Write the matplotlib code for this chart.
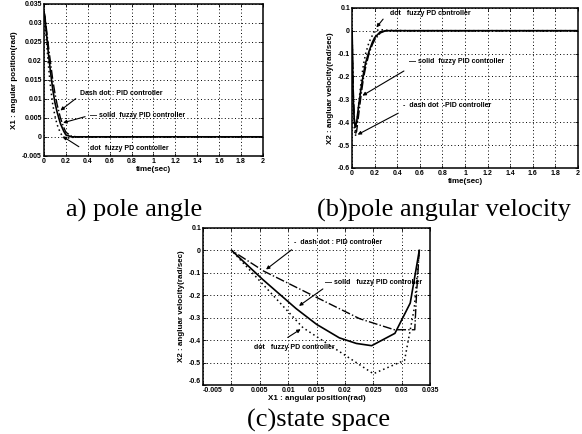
import matplotlib
matplotlib.use("Agg")
import matplotlib.pyplot as plt

# a) pole angle x1(t)
t_a = [0, 0.01, 0.02, 0.04, 0.06, 0.08, 0.1, 0.12, 0.15, 0.18, 0.2, 0.25, 0.3, 0.5, 1, 1.5, 2]
x1_fpid = [0.033, 0.031, 0.028, 0.022, 0.017, 0.0125, 0.009, 0.0065, 0.0035, 0.0015, 0.0005, 0, 0, 0, 0, 0, 0]
x1_pid = [0.033, 0.0315, 0.029, 0.024, 0.0195, 0.015, 0.0115, 0.0085, 0.005, 0.0025, 0.0012, 0.0002, 0, 0, 0, 0, 0]
x1_fpd = [0.033, 0.030, 0.026, 0.019, 0.013, 0.0085, 0.0055, 0.0032, 0.001, -0.0002, -0.0004, -0.0002, 0, 0, 0, 0, 0]

# b) pole angular velocity x2(t)
t_b = [0, 0.01, 0.02, 0.03, 0.04, 0.06, 0.08, 0.1, 0.12, 0.15, 0.18, 0.2, 0.25, 0.3, 0.5, 1, 1.5, 2]
x2_fpid = [0, -0.3, -0.4, -0.42, -0.40, -0.32, -0.25, -0.19, -0.14, -0.09, -0.05, -0.03, -0.005, 0, 0, 0, 0, 0]
x2_pid = [0, -0.25, -0.38, -0.45, -0.44, -0.36, -0.28, -0.21, -0.16, -0.10, -0.06, -0.04, -0.01, 0, 0, 0, 0, 0]
x2_fpd = [0, -0.32, -0.43, -0.46, -0.42, -0.31, -0.22, -0.15, -0.10, -0.05, -0.02, 0.0, 0.005, 0.002, 0, 0, 0, 0]

# c) state space x2 vs x1
ss_fpid_x = [0.0331, 0.0315, 0.0288, 0.0247, 0.022, 0.019, 0.015, 0.0114, 0.0055, 0]
ss_fpid_y = [0.0, -0.235, -0.37, -0.425, -0.415, -0.39, -0.33, -0.26, -0.13, 0]
ss_pid_x = [0.0331, 0.0326, 0.0323, 0.0287, 0.0226, 0.015, 0.0057, 0]
ss_pid_y = [0.0, -0.2, -0.354, -0.354, -0.305, -0.21, -0.093, 0]
ss_fpd_x = [0.0331, 0.0322, 0.0305, 0.025, 0.0126, 0]
ss_fpd_y = [0.0, -0.26, -0.49, -0.55, -0.345, 0]

sans = "Liberation Sans"
tick_fs = 5
lab_fs = 5.8
note_fs = 5
dot_ls = (0, (1, 2))


def style(ax, xt, yt, xtl, ytl):
    ax.set_xticks(xt)
    ax.set_yticks(yt)
    ax.set_xticklabels(xtl, fontsize=tick_fs, fontweight="bold", family=sans)
    ax.set_yticklabels(ytl, fontsize=tick_fs, fontweight="bold", family=sans)
    ax.grid(True, linestyle=(0, (1, 2.5)), color="black", linewidth=0.7)
    ax.tick_params(direction="in", top=True, right=True, length=2, width=0.6, pad=1.5)
    for s in ax.spines.values():
        s.set_linewidth(1.1)


def note(ax, text, xy, xytext, arrow_from=None):
    ax.text(xytext[0], xytext[1], text, fontsize=note_fs, fontweight="bold",
            family=sans, va="center", ha="left")
    if arrow_from is not None:
        ax.annotate("", xy=xy, xytext=arrow_from,
                    arrowprops=dict(arrowstyle="-|>", color="black", lw=0.8,
                                    mutation_scale=5))


def curves(ax, x_pid, y_pid, x_fpd, y_fpd, x_fpid, y_fpid):
    ax.plot(x_pid, y_pid, color="black", lw=1.0, linestyle="-.")
    ax.plot(x_fpd, y_fpd, color="black", lw=1.1, linestyle=dot_ls)
    ax.plot(x_fpid, y_fpid, color="black", lw=1.2)


fig = plt.figure(figsize=(5.82, 4.34), dpi=100)

# ---- a) pole angle
ax1 = fig.add_axes([0.0756, 0.641, 0.376, 0.350])
curves(ax1, t_a, x1_pid, t_a, x1_fpd, t_a, x1_fpid)
ax1.set_xlim(0, 2)
ax1.set_ylim(-0.005, 0.035)
style(ax1, [0, 0.2, 0.4, 0.6, 0.8, 1, 1.2, 1.4, 1.6, 1.8, 2],
      [-0.005, 0, 0.005, 0.01, 0.015, 0.02, 0.025, 0.03, 0.035],
      ["0", "0.2", "0.4", "0.6", "0.8", "1", "1.2", "1.4", "1.6", "1.8", "2"],
      ["-0.005", "0", "0.005", "0.01", "0.015", "0.02", "0.025", "0.03", "0.035"])
ax1.set_xlabel("time(sec)", fontsize=lab_fs, fontweight="bold", family=sans, labelpad=1)
ax1.set_ylabel("X1 : angular position(rad)", fontsize=lab_fs, fontweight="bold", family=sans, labelpad=3)
note(ax1, "Dash dot : PID controller", (0.13, 0.0065), (0.33, 0.0115), arrow_from=(0.31, 0.0105))
note(ax1, "\u2014 solid  fuzzy PID controller", (0.15, 0.0035), (0.42, 0.0055), arrow_from=(0.4, 0.0055))
note(ax1, "dot  fuzzy PD controller", (0.15, 0.0005), (0.42, -0.003), arrow_from=(0.34, -0.003))

# ---- b) pole angular velocity
ax2 = fig.add_axes([0.605, 0.613, 0.388, 0.369])
curves(ax2, t_b, x2_pid, t_b, x2_fpd, t_b, x2_fpid)
ax2.set_xlim(0, 2)
ax2.set_ylim(-0.6, 0.1)
style(ax2, [0, 0.2, 0.4, 0.6, 0.8, 1, 1.2, 1.4, 1.6, 1.8, 2],
      [-0.6, -0.5, -0.4, -0.3, -0.2, -0.1, 0, 0.1],
      ["0", "0.2", "0.4", "0.6", "0.8", "1", "1.2", "1.4", "1.6", "1.8", "2"],
      ["-0.6", "-0.5", "-0.4", "-0.3", "-0.2", "-0.1", "0", "0.1"])
ax2.set_xlabel("time(sec)", fontsize=lab_fs, fontweight="bold", family=sans, labelpad=1)
ax2.set_ylabel("X2 : angluar velocity(rad/sec)", fontsize=lab_fs, fontweight="bold", family=sans, labelpad=3)
note(ax2, "dot   fuzzy PD controller", (0.2, 0.005), (0.34, 0.075), arrow_from=(0.29, 0.06))
note(ax2, "\u2014 solid  fuzzy PID controller", (0.07, -0.29), (0.5, -0.135), arrow_from=(0.48, -0.17))
note(ax2, "-  dash dot  -PID controller", (0.027, -0.46), (0.45, -0.325), arrow_from=(0.43, -0.355))

# ---- c) state space
ax3 = fig.add_axes([0.349, 0.113, 0.390, 0.362])
curves(ax3, ss_pid_x, ss_pid_y, ss_fpd_x, ss_fpd_y, ss_fpid_x, ss_fpid_y)
ax3.set_xlim(-0.005, 0.035)
ax3.set_ylim(-0.6, 0.1)
style(ax3, [-0.005, 0, 0.005, 0.01, 0.015, 0.02, 0.025, 0.03, 0.035],
      [-0.6, -0.5, -0.4, -0.3, -0.2, -0.1, 0, 0.1],
      ["-0.005", "0", "0.005", "0.01", "0.015", "0.02", "0.025", "0.03", "0.035"],
      ["-0.6", "-0.5", "-0.4", "-0.3", "-0.2", "-0.1", "0", "0.1"])
# corner labels sit apart, as in the original
ax3.get_yticklabels()[0].set_va("bottom")
ax3.get_xticklabels()[0].set_ha("left")
ax3.set_xlabel("X1 : angular position(rad)", fontsize=lab_fs, fontweight="bold", family=sans, labelpad=1)
ax3.set_ylabel("X2 : angluar velocity(rad/sec)", fontsize=lab_fs, fontweight="bold", family=sans, labelpad=3)
note(ax3, "-  dash dot : PID controller", (0.0057, -0.093), (0.011, 0.035), arrow_from=(0.011, 0.01))
note(ax3, "\u2014 solid   fuzzy PID controller", (0.0115, -0.255), (0.0165, -0.145), arrow_from=(0.0165, -0.165))
note(ax3, "dot   fuzzy PD controller", (0.0126, -0.345), (0.004, -0.435), arrow_from=(0.0095, -0.395))

# captions
serif = "Liberation Serif"
fig.text(0.230, 0.516, "a) pole angle", fontsize=19, family=serif, ha="center", va="center")
fig.text(0.762, 0.516, "(b)pole angular velocity", fontsize=19, family=serif, ha="center", va="center")
fig.text(0.547, 0.032, "(c)state space", fontsize=19, family=serif, ha="center", va="center")

fig.savefig("out.png", dpi=100)
